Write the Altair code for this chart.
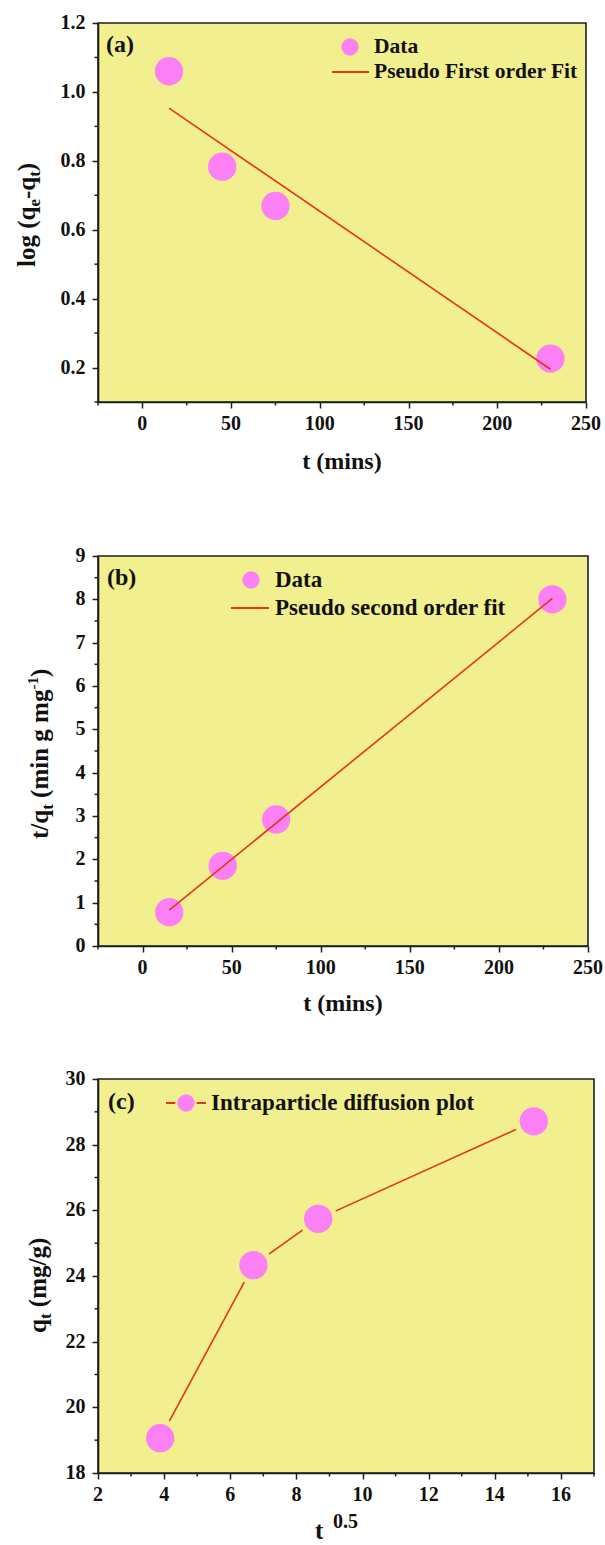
import altair as alt
import pandas as pd

FONT = "Liberation Serif"
BG = "#F1EF8E"
PINK = "#FC80F5"
RED = "#E2361C"
INK = "#1E1E1E"
TXT = "#111111"

# ---------------- data ----------------
# panel (a): pseudo first order
t_min = [15, 45, 75, 230]
log_qe_qt = [1.060, 0.783, 0.669, 0.226]
fit1_t = [15, 230]
fit1_y = [0.953, 0.195]
# panel (b): pseudo second order
t_over_qt = [0.78, 1.85, 2.92, 8.00]
fit2_t = [15, 230]
fit2_y = [0.83, 8.02]
# panel (c): intraparticle diffusion
sqrt_t = [3.88, 6.70, 8.66, 15.18]
q_t = [19.06, 24.33, 25.74, 28.71]

# tick values and labels
x_major_ab = [0, 50, 100, 150, 200, 250]
x_labels_ab = ["0", "50", "100", "150", "200", "250"]
x_minor_ab = [-25, 25, 75, 125, 175, 225]
y_major_a = [0.2, 0.4, 0.6, 0.8, 1.0, 1.2]
y_labels_a = ["0.2", "0.4", "0.6", "0.8", "1.0", "1.2"]
y_minor_a = [0.1, 0.3, 0.5, 0.7, 0.9, 1.1]
y_major_b = [0, 1, 2, 3, 4, 5, 6, 7, 8, 9]
y_labels_b = ["0", "1", "2", "3", "4", "5", "6", "7", "8", "9"]
y_minor_b = [0.5, 1.5, 2.5, 3.5, 4.5, 5.5, 6.5, 7.5, 8.5]
x_major_c = [2, 4, 6, 8, 10, 12, 14, 16]
x_labels_c = ["2", "4", "6", "8", "10", "12", "14", "16"]
x_minor_c = [3, 5, 7, 9, 11, 13, 15, 17]
y_major_c = [18, 20, 22, 24, 26, 28, 30]
y_labels_c = ["18", "20", "22", "24", "26", "28", "30"]
y_minor_c = [19, 21, 23, 25, 27, 29]

# Times-like bold glyph advance widths (per 1000 em) for composing titles
GW = {" ": 250, "(": 333, ")": 333, "-": 333, ".": 250, "/": 278,
      "a": 500, "b": 556, "c": 444, "d": 556, "e": 444, "f": 333, "g": 500,
      "h": 556, "i": 278, "l": 278, "m": 833, "n": 556, "o": 500, "p": 556,
      "q": 556, "r": 444, "s": 389, "t": 333, "u": 556}


def tw(s, size):
    return sum(GW.get(ch, 500) for ch in s) * size / 1000.0


ONE = pd.DataFrame({"k": [0]})


def txt(s, x, y, size, align="left", baseline="middle", angle=0):
    return alt.Chart(ONE).mark_text(
        text=s, font=FONT, fontSize=size, fontWeight="bold", color=TXT,
        align=align, baseline=baseline, angle=angle,
    ).encode(x=alt.value(x), y=alt.value(y))


def rich(segments, x0, y0, rotated):
    """Compose a title from pieces (text, font size, baseline shift)."""
    layers = []
    pos = 0.0
    for s, fs, shift in segments:
        lead = len(s) - len(s.lstrip(" "))
        pos += lead * GW[" "] * fs / 1000.0
        s = s.lstrip(" ")
        if rotated:
            layers.append(txt(s, x0 + shift, y0 - pos, fs, baseline="alphabetic", angle=270))
        else:
            layers.append(txt(s, x0 + pos, y0 + shift, fs, baseline="alphabetic"))
        pos += tw(s, fs)
    return layers


def axis(values):
    return alt.Axis(
        values=values, title=None, grid=False, labels=False,
        domain=True, domainColor=INK, domainWidth=1.6,
        ticks=True, tickSize=6, tickWidth=1.5, tickColor=INK,
    )


def XY(xdom, xvals, ydom, yvals):
    X = lambda: alt.X("x:Q", scale=alt.Scale(domain=xdom, nice=False, zero=False), axis=axis(xvals))
    Y = lambda: alt.Y("y:Q", scale=alt.Scale(domain=ydom, nice=False, zero=False), axis=axis(yvals))
    return X, Y


def guides(X, Y, xmajor, xlabels, xminor, ymajor, ylabels, yminor, h):
    bx = alt.Chart(pd.DataFrame({"x": xminor})).mark_rule(color=INK, strokeWidth=1.5).encode(
        x=X(), y=alt.value(h), y2=alt.value(h + 3.5))
    by = alt.Chart(pd.DataFrame({"y": yminor})).mark_rule(color=INK, strokeWidth=1.5).encode(
        y=Y(), x=alt.value(0), x2=alt.value(-3.5))
    lx = alt.Chart(pd.DataFrame({"x": xmajor, "lab": xlabels})).mark_text(
        font=FONT, fontSize=20, fontWeight="bold", color=TXT, align="center", baseline="middle"
    ).encode(x=X(), y=alt.value(h + 21.5), text="lab:N")
    ly = alt.Chart(pd.DataFrame({"y": ymajor, "lab": ylabels})).mark_text(
        font=FONT, fontSize=20, fontWeight="bold", color=TXT, align="right", baseline="middle"
    ).encode(y=Y(), x=alt.value(-12.5), text="lab:N")
    return [bx, by, lx, ly]


MS = 800      # data marker area
LMS = 300     # legend marker area

# ---------------- panel (a) ----------------
WA, HA = 488, 379
Xa, Ya = XY([-25, 250], x_major_ab, [0.1, 1.2], y_major_a)
pts_a = alt.Chart(pd.DataFrame({"x": t_min, "y": log_qe_qt})).mark_circle(
    size=MS, color=PINK, opacity=1).encode(x=Xa(), y=Ya())
fit_a = alt.Chart(pd.DataFrame({"x": fit1_t, "y": fit1_y})).mark_line(
    color=RED, strokeWidth=1.6).encode(x=Xa(), y=Ya())
leg_a = [
    alt.Chart(ONE).mark_circle(size=LMS, color=PINK, opacity=1).encode(x=alt.value(252), y=alt.value(24)),
    txt("Data", 276, 24, 21.5),
    alt.Chart(ONE).mark_rule(color=RED, strokeWidth=1.8).encode(x=alt.value(234), x2=alt.value(271), y=alt.value(49)),
    txt("Pseudo First order Fit", 276, 49, 21.5),
    txt("(a)", 8, 22, 24),
]
ytitle_a = rich([("log (q", 25, 0), ("e", 17, 5), ("-q", 25, 0), ("t", 17, 5), (")", 25, 0)],
                -63, 244, True)
xtitle_a = [txt("t (mins)", WA / 2, HA + 60, 24, align="center")]
panel_a = alt.layer(
    pts_a, fit_a,
    *guides(Xa, Ya, x_major_ab, x_labels_ab, x_minor_ab, y_major_a, y_labels_a, y_minor_a, HA),
    *leg_a, *ytitle_a, *xtitle_a).properties(width=WA, height=HA)

# ---------------- panel (b) ----------------
WB, HB = 490, 390
Xb, Yb = XY([-25, 250], x_major_ab, [0, 9], y_major_b)
pts_b = alt.Chart(pd.DataFrame({"x": t_min, "y": t_over_qt})).mark_circle(
    size=MS, color=PINK, opacity=1).encode(x=Xb(), y=Yb())
fit_b = alt.Chart(pd.DataFrame({"x": fit2_t, "y": fit2_y})).mark_line(
    color=RED, strokeWidth=1.6).encode(x=Xb(), y=Yb())
leg_b = [
    alt.Chart(ONE).mark_circle(size=LMS, color=PINK, opacity=1).encode(x=alt.value(153), y=alt.value(24)),
    txt("Data", 177, 24, 23),
    alt.Chart(ONE).mark_rule(color=RED, strokeWidth=1.8).encode(x=alt.value(133), x2=alt.value(171), y=alt.value(52)),
    txt("Pseudo second order fit", 177, 52, 23),
    txt("(b)", 9, 22, 24),
]
ytitle_b = rich([("t/q", 25, 0), ("t", 17, 5), (" (min g mg", 25, 0), ("-1", 15, -10), (")", 25, 0)],
                -50, 283, True)
xtitle_b = [txt("t (mins)", WB / 2, HB + 58, 24, align="center")]
panel_b = alt.layer(
    pts_b, fit_b,
    *guides(Xb, Yb, x_major_ab, x_labels_ab, x_minor_ab, y_major_b, y_labels_b, y_minor_b, HB),
    *leg_b, *ytitle_b, *xtitle_b).properties(width=WB, height=HB)

# ---------------- panel (c) ----------------
WC, HC = 496, 394
Xc, Yc = XY([2, 17], x_major_c, [18, 30], y_major_c)
df_c = pd.DataFrame({"x": sqrt_t, "y": q_t})
line_c = alt.Chart(df_c).mark_line(color=RED, strokeWidth=1.6).encode(x=Xc(), y=Yc())
halo_c = alt.Chart(df_c).mark_circle(size=1500, color=BG, opacity=1).encode(x=Xc(), y=Yc())
pts_c = alt.Chart(df_c).mark_circle(size=MS, color=PINK, opacity=1).encode(x=Xc(), y=Yc())
leg_c = [
    alt.Chart(ONE).mark_rule(color=RED, strokeWidth=1.8).encode(x=alt.value(68), x2=alt.value(108), y=alt.value(24)),
    alt.Chart(ONE).mark_circle(size=460, color=BG, opacity=1).encode(x=alt.value(88), y=alt.value(24)),
    alt.Chart(ONE).mark_circle(size=LMS, color=PINK, opacity=1).encode(x=alt.value(88), y=alt.value(24)),
    txt("Intraparticle diffusion plot", 113, 24, 23),
    txt("(c)", 10, 23, 24),
]
ytitle_c = rich([("q", 25, 0), ("t", 17, 5), (" (mg/g)", 25, 0)], -52, 254, True)
xtitle_c = rich([("t", 25, 0)], 217, HC + 66, False) + rich([("0.5", 20, 0)], 235, HC + 55, False)
panel_c = alt.layer(
    line_c, halo_c, pts_c,
    *guides(Xc, Yc, x_major_c, x_labels_c, x_minor_c, y_major_c, y_labels_c, y_minor_c, HC),
    *leg_c, *ytitle_c, *xtitle_c).properties(width=WC, height=HC)

top = alt.vconcat(panel_a, panel_b, spacing=70)
chart = alt.vconcat(top, panel_c, spacing=51).properties(
    padding={"left": 14, "top": 12, "right": 0, "bottom": 0},
    background="white",
).configure_view(fill=BG, stroke=INK, strokeWidth=1.6)

chart.save("out.html", embed_options={"renderer": "svg", "actions": False})
